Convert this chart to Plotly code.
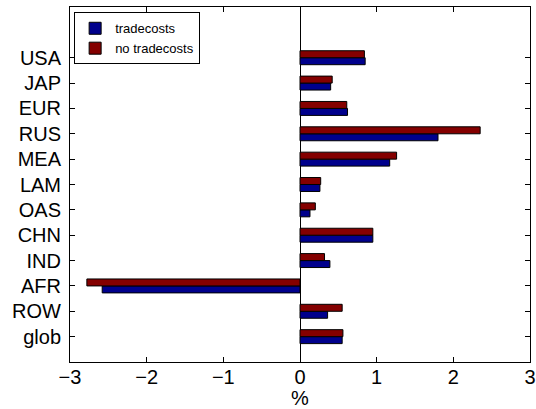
import plotly.graph_objects as go

regions = ["USA", "JAP", "EUR", "RUS", "MEA", "LAM", "OAS", "CHN", "IND", "AFR", "ROW", "glob"]
tradecosts = [0.85, 0.40, 0.62, 1.80, 1.17, 0.26, 0.13, 0.95, 0.39, -2.58, 0.36, 0.55]
no_tradecosts = [0.84, 0.42, 0.61, 2.35, 1.26, 0.27, 0.20, 0.95, 0.32, -2.78, 0.55, 0.56]
xticks = [-3, -2, -1, 0, 1, 2, 3]
xticklabels = ["\u22123", "\u22122", "\u22121", "0", "1", "2", "3"]

ypos = list(range(len(regions), 0, -1))  # USA at top

FONT = "Liberation Sans, Arial, Helvetica, sans-serif"

fig = go.Figure()
fig.add_trace(go.Bar(
    name="tradecosts", x=tradecosts, y=ypos, orientation="h",
    marker=dict(color="#00008C", line=dict(color="black", width=1)),
))
fig.add_trace(go.Bar(
    name="no tradecosts", x=no_tradecosts, y=ypos, orientation="h",
    marker=dict(color="#840000", line=dict(color="black", width=1)),
))

fig.update_layout(
    width=536, height=409,
    margin=dict(l=70, r=6, t=7, b=47, autoexpand=False),
    paper_bgcolor="white", plot_bgcolor="white",
    barmode="group", bargap=0.45, bargroupgap=0,
    font=dict(family=FONT, color="black", size=20),
    showlegend=True,
    legend=dict(
        x=0.009, y=0.985, xanchor="left", yanchor="top",
        bgcolor="white", bordercolor="black", borderwidth=1,
        font=dict(size=13, family=FONT), traceorder="normal",
        tracegroupgap=0, itemwidth=30,
    ),
    xaxis=dict(
        range=[-3, 3], tickvals=xticks, ticktext=xticklabels,
        showline=True, linecolor="black", linewidth=1, mirror="ticks",
        ticks="inside", ticklen=5, tickcolor="black",
        showgrid=False, zeroline=True, zerolinecolor="black", zerolinewidth=1,
        title=dict(text="%", standoff=2, font=dict(size=20)),
        tickfont=dict(size=20), automargin=False, ticklabelstandoff=-3,
    ),
    yaxis=dict(
        range=[0, 14], tickvals=ypos, ticktext=regions,
        showline=True, linecolor="black", linewidth=1, mirror="ticks",
        ticks="inside", ticklen=5, tickcolor="black",
        showgrid=False, zeroline=False,
        tickfont=dict(size=20), ticklabelstandoff=4, automargin=False,
    ),
)

fig.write_html(
    "out.html",
    config={"displayModeBar": False},
    post_script="document.body.style.margin='0px';",
)
